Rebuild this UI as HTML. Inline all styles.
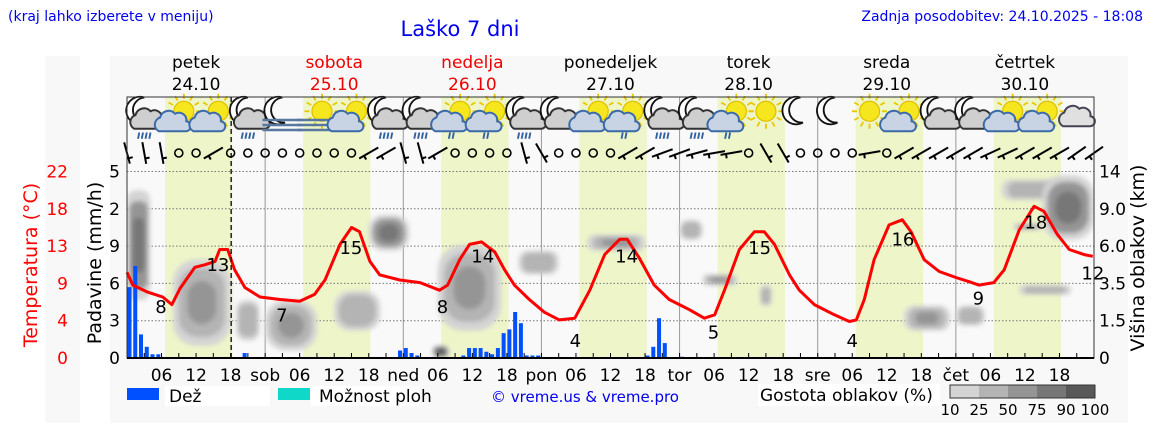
<!DOCTYPE html>
<html><head><meta charset="utf-8">
<style>
html,body{margin:0;padding:0;background:#fff;}
svg{display:block;font-family:"DejaVu Sans","Liberation Sans",sans-serif;}
</style></head>
<body>
<svg id="chart" width="1152" height="443" viewBox="0 0 1152 443" xmlns="http://www.w3.org/2000/svg">
<defs>
<filter id="blur" x="-50%" y="-50%" width="200%" height="200%"><feGaussianBlur stdDeviation="2.5"/></filter>
<clipPath id="plotclip"><rect x="127" y="171" width="967" height="187"/></clipPath>
</defs>
<rect x="45" y="56" width="35" height="367" fill="#f8f8f8"/>
<rect x="110" y="56" width="1018" height="367" fill="#f8f8f8"/>
<text x="8" y="21" font-size="14" fill="#0000ee">(kraj lahko izberete v meniju)</text>
<text x="460" y="36" font-size="21" fill="#0000ee" text-anchor="middle">Laško 7 dni</text>
<text x="1143" y="21" font-size="14" fill="#0000ee" text-anchor="end">Zadnja posodobitev: 24.10.2025 - 18:08</text>
<g id="bands"></g>
<g id="grid"></g>
<g id="clouds" clip-path="url(#plotclip)"></g>
<g id="bars"></g>
<g id="temp"></g>
<g id="icons"></g>
<g id="wind"></g>
<g id="axes"></g>
<g id="legend"></g>
</svg>
<script>
const NS='http://www.w3.org/2000/svg';
// ---- data ----
const dayNames=['petek','sobota','nedelja','ponedeljek','torek','sreda','četrtek'];
const dayDates=['24.10','25.10','26.10','27.10','28.10','29.10','30.10'];
const dayAbbr=['','sob','ned','pon','tor','sre','čet'];
const weekend=[false,true,true,false,false,false,false];
const precipTickVals=[0,0.3,0.6,0.9,2,5];
const precipTickLabels=['0','3','6','9','2','5'];
const tempTickLabels=['0','4','9','13','18','22'];
const kmTickVals=[0,1.5,3.5,6,9,14];
const kmTickLabels=['0','1.5','3.5','6.0','9.0','14'];
const tHours=[0,1,3.5,6.2,7.8,9.2,11.8,13.5,15.3,16.1,17.5,18.7,20.5,23.1,26.6,30,32.6,34.4,37,39,40.4,42.2,43.9,47.4,50.9,54.3,55.7,57.8,59.5,61.6,63.9,65.6,67.3,69.9,72.5,75.1,77.8,80.4,83,85.6,86.9,89,91.6,94.2,97.7,100.3,102.1,103.8,106.4,109,110.7,112.5,115.1,116.8,119.4,122.9,125.5,126.7,128.1,129.8,132.4,134.7,136.2,138.5,141.1,144,146.3,148,150.6,152.4,155,157.6,159.3,161.6,163.7,166.3,167.8];
const tVals=[10.1,8.6,7.8,7.2,6.3,8.2,10.7,11,11.4,12.8,12.8,10.4,8.3,7.2,6.9,6.7,7.5,9.2,13.4,15.4,14.9,11.4,9.8,9.2,8.9,8,8.6,11.6,13.4,13.7,12.5,10.4,8.6,6.9,5.4,4.5,4.7,8,12.2,14,14,11.8,8.6,6.9,5.7,4.7,5.1,8,12.8,14.9,14.9,13.4,9.8,8,6.3,5.1,4.3,4.5,6.9,11.6,15.7,16.3,14.9,11.6,10.2,9.5,9,8.6,8.9,10.4,15.1,17.9,17.3,14.6,12.8,12.2,12];
const labelHours=[5.9,15.8,26.9,38.9,54.8,61.8,77.9,86.8,101.9,109.9,126,134.8,147.9,157.9,167.8];
const labelTemps=[8,13,7,15,8,14,4,14,5,15,4,16,9,18,12];
const rainHours=[0,1,2,3,4,5,20,47,48,49,50,58,59,60,61,62,63,64,65,66,67,68,69,70,71,90,91,92,93,96];
const rainVals=[0.57,0.74,0.19,0.09,0.03,0.03,0.04,0.06,0.08,0.04,0.02,0.02,0.08,0.08,0.08,0.05,0.03,0.08,0.2,0.23,0.37,0.28,0.02,0.02,0.02,0.02,0.09,0.32,0.12,0.01];
const cloudStart=[0,8,19,24,36,42,54,53,68,80,96,100,110,135,144,152,159,154,155];
const cloudEnd=[4,18,23,33,44,49,65,56,75,90,100,106,112,143,149,163,168,159,164];
const cloudLow=[2.6,0.5,0.7,0.3,1.1,5.7,1.1,0,4.1,5.7,6.5,3.4,2.3,1.1,1.3,10.2,6.5,7.3,2.9];
const cloudHigh=[11.5,5.1,2.6,2.6,3.1,8.5,6.1,0.5,5.7,6.9,8.1,4.1,3.4,2.3,2.3,12.9,13.5,7.8,3.4];
const cloudDens=[85,60,40,55,40,80,55,90,30,60,30,60,35,50,40,30,85,60,35];
const iconTypes=['mr','sc','sc','mr','mf','sf','sc','mr','mr','scr','scr','mr','mc','sc','scr','mr','mr','scr','s','m','m','s','sc','mc','mc','sc','sc','c'];
const windDir=[345,350,350,0,0,60,0,0,0,0,0,0,0,0,60,60,345,345,60,0,0,0,0,345,330,0,0,0,0,60,60,70,70,75,80,80,0,330,330,0,0,0,0,80,0,60,60,60,60,60,65,65,60,60,60,55,55];
const windSpd=[4,4,4,0,0,3,0,0,0,0,0,0,0,0,3,3,4,4,3,0,0,0,0,3,3,0,0,0,0,3,3,3,3,3,3,3,0,3,3,0,0,0,0,3,0,3,3,3,3,3,3,3,3,3,3,3,3];
const densLevels=[10,25,50,75,90,100];
const densColors=['#d4d4d4','#b4b4b4','#959595','#777777','#585858'];
// ---- scales ----
const X0=127,X1=1094,Y0=358,STEP=37.3,PXH=(X1-X0)/168;
function xH(h){return X0+h*PXH;}
function yIdx(i){return Y0-i*STEP;}
function piece(v,ticks){for(let i=1;i<ticks.length;i++){if(v<=ticks[i])return (i-1)+(v-ticks[i-1])/(ticks[i]-ticks[i-1]);}return ticks.length-1;}
function yRain(v){return yIdx(piece(v,precipTickVals));}
function yKm(v){return yIdx(piece(v,kmTickVals));}
function yT(t){return Y0-t*(5*STEP/22);}
function mk(tag,attrs,parent,text){const e=document.createElementNS(NS,tag);for(const k in attrs)e.setAttribute(k,attrs[k]);if(text!==undefined)e.textContent=text;parent.appendChild(e);return e;}
const G=id=>document.getElementById(id);
// bands
const bands=G('bands');
let r=mk('rect',{x:X0,y:97,width:X1-X0,height:Y0-97,fill:'#f9f9f9'},bands);


for(let d=0;d<7;d++){
  const b=mk('rect',{x:xH(d*24+6.6),y:97,width:xH(d*24+18.3)-xH(d*24+6.6),height:Y0-97,fill:'#eef5c9'},bands);
  
  
}
// grid
const grid=G('grid');
for(let i=1;i<=5;i++){
  const l=mk('line',{x1:X0,x2:X1,y1:yIdx(i),y2:yIdx(i),stroke:'#777','stroke-width':1,'stroke-dasharray':'1.5,2'},grid);
  
  
}
for(let d=1;d<7;d++){
  const l=mk('line',{x1:xH(d*24),x2:xH(d*24),y1:97,y2:Y0,stroke:'#999','stroke-width':1},grid);
  
  
}
// clouds: outer lighter contour + inner darker core
const cl=G('clouds');
for(let i=0;i<cloudStart.length;i++){
  let ci=0;for(let k=0;k<5;k++)if(cloudDens[i]>=densLevels[k])ci=k;
  const x1=xH(cloudStart[i]),x2=xH(cloudEnd[i]);
  const y1=yKm(cloudHigh[i]),y2=yKm(Math.max(0,cloudLow[i]));
  const w=x2-x1,h=Math.max(5,y2-y1);
  const g=mk('g',{filter:'url(#blur)'},cl);
  
  
  mk('rect',{x:x1,y:y1,width:w,height:h,rx:Math.min(w,h)/2.5,fill:densColors[0]},g);
  if(ci>=1)mk('rect',{x:x1+w*0.1,y:y1+h*0.1,width:w*0.8,height:h*0.8,rx:Math.min(w,h)/3,fill:densColors[Math.max(1,ci-1)]},g);
  if(ci>=2)mk('rect',{x:x1+w*0.25,y:y1+h*0.25,width:w*0.5,height:h*0.5,rx:Math.min(w,h)/4,fill:densColors[ci]},g);
}
// rain bars
const bars=G('bars');
for(let i=0;i<rainHours.length;i++){
  const y=yRain(rainVals[i]);
  const b=mk('rect',{x:xH(rainHours[i])+0.5,y:y,width:4,height:Y0-y,fill:'#0050ff'},bars);
  
  
}
// temperature
const tg=G('temp');
let dpath='';for(let i=0;i<tHours.length;i++)dpath+=(i?'L':'M')+xH(tHours[i]).toFixed(1)+','+yT(tVals[i]).toFixed(1);
const tl=mk('path',{d:dpath,fill:'none',stroke:'#ff0000','stroke-width':3,'stroke-linejoin':'round'},tg);


for(let i=0;i<labelHours.length;i++){
  const t=mk('text',{x:xH(labelHours[i]),y:yT(labelTemps[i])+23,'font-size':18,'text-anchor':'middle',fill:'#000'},tg,String(labelTemps[i]));
  
  
}
const nl=mk('line',{x1:xH(18.1),x2:xH(18.1),y1:97,y2:Y0,stroke:'#222','stroke-width':1.5,'stroke-dasharray':'5,3'},tg);


// icons
const ic=G('icons');
function sun(g,cx,cy,r){for(let a=0;a<360;a+=30){const ra=a*Math.PI/180;mk('line',{x1:cx+Math.cos(ra)*(r+2),y1:cy+Math.sin(ra)*(r+2),x2:cx+Math.cos(ra)*(r+6),y2:cy+Math.sin(ra)*(r+6),stroke:'#e8c800','stroke-width':1.5},g);}mk('circle',{cx:cx,cy:cy,r:r,fill:'#f5e61e',stroke:'#e0c000','stroke-width':1},g);}
function moon(g,cx,cy){mk('path',{d:`M${cx+4},${cy-11} A11,11 0 1,0 ${cx+6},${cy+9} A9,9 0 1,1 ${cx+4},${cy-11}Z`,fill:'#fff',stroke:'#111','stroke-width':1.5},g);}
function cloud(g,cx,cy,fill,st){mk('path',{d:`M${cx-11},${cy+7} a6,6 0 0,1 1,-11 a7,7 0 0,1 12,-3 a6,6 0 0,1 9,6 a4,4 0 0,1 -1,8 Z`,fill:fill,stroke:st,'stroke-width':1.6},g);}
function rain(g,cx,cy,n){for(let k=0;k<n;k++)mk('line',{x1:cx-4+k*3,y1:cy,x2:cx-5+k*3,y2:cy+5,stroke:'#3060a0','stroke-width':1.5},g);}
function fog(g,cx,cy){for(let k=0;k<3;k++)mk('line',{x1:cx-16,x2:cx+16,y1:cy+k*4,y2:cy+k*4,stroke:'#5878a0','stroke-width':2},g);}
for(let i=0;i<iconTypes.length;i++){
  const cx=xH(3+6*i),cy=115,t=iconTypes[i];
  const g=mk('g',{transform:`translate(${cx},${cy}) scale(1.25) translate(${-cx},${-cy})`},ic);
  
  
  if(t[0]==='m'){moon(g,cx-4,cy-3);}
  if(t[0]==='s'){sun(g,t==='s'?cx:cx+4,cy-3,8);}
  if(t==='mr'||t==='mc'){cloud(g,cx+3,cy+4,'#cfcfcf','#333');}
  if(t==='sc'||t==='scr'){cloud(g,cx-5,cy+6,'#c8d4e4','#3a6aa8');}
  if(t==='c'){cloud(g,cx,cy+2,'#e0e0e0','#445');}
  if(t==='mr'||t==='scr')rain(g,cx,cy+14,t==='mr'?4:2);
  if(t==='mf'||t==='sf')fog(g,cx,cy+4);
}
// wind
const wg=G('wind');
for(let k=0;k<windDir.length;k++){
  if(k*3>168)break;
  const x=xH(3*k),y=153;
  const g=mk('g',{},wg);
  
  
  if(windSpd[k]===0){mk('circle',{cx:x,cy:y,r:4,fill:'none',stroke:'#000','stroke-width':1.6},g);continue;}
  const a=windDir[k]*Math.PI/180,L=11,dx=Math.sin(a)*L,dy=-Math.cos(a)*L;
  mk('line',{x1:x-dx,y1:y-dy,x2:x+dx,y2:y+dy,stroke:'#000','stroke-width':2},g);
  mk('line',{x1:x-dx*0.5,y1:y-dy*0.5,x2:x-dx*0.5+(-dy)*0.4,y2:y-dy*0.5+dx*0.4,stroke:'#000','stroke-width':2},g);
}
// axes
const ax=G('axes');
mk('rect',{x:X0,y:97,width:X1-X0,height:Y0-97,fill:'none',stroke:'#333','stroke-width':1},ax);
let a=mk('line',{x1:X0,x2:X1,y1:Y0,y2:Y0,stroke:'#000','stroke-width':2},ax);


for(let d=0;d<7;d++){
  const cx=xH(d*24+12);
  const n=mk('text',{x:cx,y:68,'font-size':17,'text-anchor':'middle',fill:weekend[d]?'#e00':'#000'},ax,dayNames[d]);
  
  
  const dt=mk('text',{x:cx,y:90,'font-size':17,'text-anchor':'middle',fill:weekend[d]?'#e00':'#000'},ax,dayDates[d]);
  
  
  for(let h=0;h<24;h+=3){
    if(d===0&&h===0)continue;
    mk('line',{x1:xH(d*24+h),x2:xH(d*24+h),y1:Y0,y2:Y0-5,stroke:'#000','stroke-width':1},ax);
  }
  const labs=[[0,dayAbbr[d]],[6,'06'],[12,'12'],[18,'18']];
  for(const [h,s] of labs){if(!s)continue;
    const t=mk('text',{x:xH(d*24+h),y:381,'font-size':17,'text-anchor':'middle',fill:'#000'},ax,s);
    
    
  }
}
for(let i=0;i<6;i++){
  const y=yIdx(i)+6;
  let t=mk('text',{x:120,y:y,'font-size':17,'text-anchor':'end',fill:'#000'},ax,precipTickLabels[i]);
  
  
  t=mk('text',{x:68,y:y,'font-size':17,'text-anchor':'end',fill:'#f00'},ax,tempTickLabels[i]);
  
  
  t=mk('text',{x:1099,y:y,'font-size':17,'text-anchor':'start',fill:'#000'},ax,kmTickLabels[i]);
  
  
}
let t=mk('text',{x:0,y:0,'font-size':19,'text-anchor':'middle',fill:'#f00',transform:'translate(37,265) rotate(-90)'},ax,'Temperatura (°C)');


t=mk('text',{x:0,y:0,'font-size':19,'text-anchor':'middle',fill:'#000',transform:'translate(101,263) rotate(-90)'},ax,'Padavine (mm/h)');


t=mk('text',{x:0,y:0,'font-size':19,'text-anchor':'middle',fill:'#000',transform:'translate(1144,258) rotate(-90)'},ax,'Višina oblakov (km)');


// legend
const lg=G('legend');
mk('rect',{x:165,y:386,width:105,height:20,fill:'#fff'},lg);
mk('rect',{x:311,y:386,width:108,height:20,fill:'#fff'},lg);
let e=mk('rect',{x:127,y:388,width:32,height:12,fill:'#0050ff'},lg);


e=mk('text',{x:169,y:402,'font-size':17,fill:'#000'},lg,'Dež');


e=mk('rect',{x:278,y:388,width:32,height:12,fill:'#10d8c8'},lg);


e=mk('text',{x:319,y:402,'font-size':17,fill:'#000'},lg,'Možnost ploh');


e=mk('text',{x:585,y:402,'font-size':15,fill:'#0000ee','text-anchor':'middle'},lg,'© vreme.us & vreme.pro');


mk('rect',{x:758,y:384,width:182,height:22,fill:'#fff'},lg);
e=mk('text',{x:760,y:401,'font-size':17,fill:'#000'},lg,'Gostota oblakov (%)');


for(let k=0;k<5;k++){
  e=mk('rect',{x:950+k*29,y:385,width:29,height:13,fill:densColors[k]},lg);
  
  
}
mk('rect',{x:950,y:385,width:145,height:13,fill:'none',stroke:'#333','stroke-width':1},lg);
for(let k=0;k<6;k++){
  e=mk('text',{x:950+k*29,y:415,'font-size':15,fill:'#000','text-anchor':'middle'},lg,String(densLevels[k]));
  
  
}
</script>
</body></html>
